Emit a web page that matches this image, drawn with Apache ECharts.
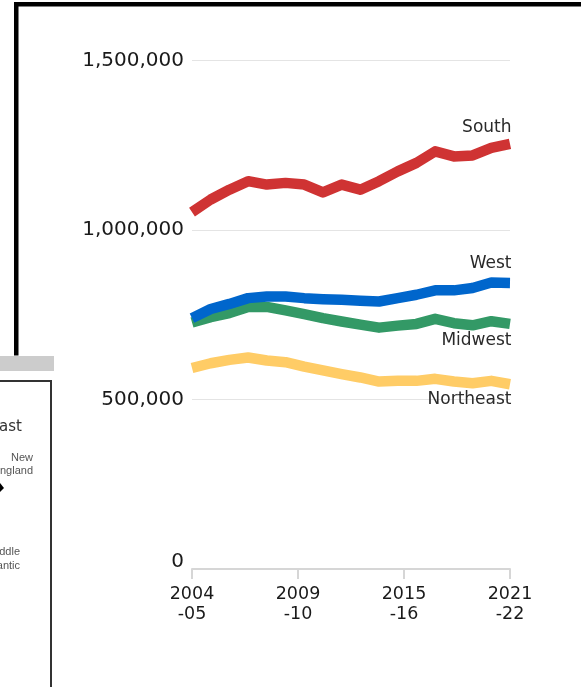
<!DOCTYPE html>
<html>
<head>
<meta charset="utf-8">
<script src="https://cdn.jsdelivr.net/npm/echarts@6/dist/echarts.min.js"></script>
<style>
  html, body { margin: 0; padding: 0; background: #fff; }
  #chart { width: 581px; height: 687px; }
</style>
</head>
<body>
<div id="chart"></div>
<script>
// School years plotted along the x axis
const schoolYears = ['2004-05', '2005-06', '2006-07', '2007-08', '2008-09', '2009-10',
  '2010-11', '2011-12', '2012-13', '2013-14', '2014-15', '2015-16', '2016-17',
  '2017-18', '2018-19', '2019-20', '2020-21', '2021-22'];

// Totals by region
const south = [1053000, 1090000, 1119000, 1144000, 1134000, 1139000, 1134000, 1111000, 1134000,
  1119000, 1144000, 1173000, 1198000, 1232000, 1217000, 1220000, 1242000, 1254000];
const west = [740000, 767000, 782000, 799000, 804000, 804000, 799000, 796000, 794000,
  791000, 789000, 799000, 809000, 822000, 822000, 829000, 845000, 844000];
const midwest = [727000, 743000, 755000, 773000, 773000, 763000, 752000, 740000, 730000,
  721000, 712000, 718000, 723000, 738000, 725000, 719000, 731000, 723000];
const northeast = [593000, 607000, 617000, 624000, 615000, 610000, 597000, 586000, 575000,
  565000, 553000, 555000, 555000, 561000, 553000, 548000, 555000, 545000];

// Bottom axis tick labels (evenly spaced)
const xTickLabels = ['2004\n-05', '2009\n-10', '2015\n-16', '2021\n-22'];

// y axis range
const yMin = 0, yMax = 1500000, yStep = 500000;

const FONT = 'DejaVu Sans';

function regionSeries(name, data, color, labelDy) {
  const last = data.length - 1;
  return {
    name: name,
    type: 'line',
    xAxisIndex: 0,
    data: data,
    showSymbol: false,
    symbol: 'none',
    smooth: false,
    silent: true,
    lineStyle: { color: color, width: 10.5, join: 'round', cap: 'butt' },
    markPoint: {
      silent: true,
      symbol: 'circle',
      symbolSize: 2,
      itemStyle: { color: 'rgba(0,0,0,0)' },
      data: [{ coord: [schoolYears[last], data[last]] }],
      label: {
        show: true,
        formatter: name,
        position: [2.5, labelDy + 1],
        align: 'right',
        verticalAlign: 'middle',
        fontFamily: FONT,
        fontSize: 17,
        color: '#2a2a2a'
      }
    }
  };
}

const chart = echarts.init(document.getElementById('chart'));
chart.setOption({
  backgroundColor: '#fff',
  animation: false,
  grid: { left: 192, right: 71, top: 60.5, bottom: 118, containLabel: false },
  xAxis: [
    {
      type: 'category',
      data: schoolYears,
      boundaryGap: false,
      position: 'top',
      show: false
    },
    {
      type: 'value',
      min: 0,
      max: xTickLabels.length - 1,
      interval: 1,
      position: 'bottom',
      axisLine: { show: true, lineStyle: { color: '#d6d6d6', width: 2 } },
      axisTick: { show: true, length: 10, lineStyle: { color: '#d6d6d6', width: 2 } },
      splitLine: { show: false },
      axisLabel: {
        margin: 15,
        fontFamily: FONT,
        fontSize: 17.5,
        lineHeight: 20,
        color: '#1a1a1a',
        formatter: v => xTickLabels[v] || ''
      }
    }
  ],
  yAxis: {
    type: 'value',
    min: yMin,
    max: yMax,
    interval: yStep,
    axisLine: { show: false },
    axisTick: { show: false },
    splitLine: { lineStyle: { color: '#e4e4e4', width: 1 } },
    axisLabel: {
      margin: 8,
      fontFamily: FONT,
      fontSize: 20,
      color: '#1a1a1a',
      formatter: v => v === 0 ? '{z|0}' : v.toLocaleString('en-US'),
      rich: { z: { fontFamily: FONT, fontSize: 20, color: '#1a1a1a', padding: [0, 0, 14, 0] } }
    }
  },
  series: [
    regionSeries('Northeast', northeast, '#ffcc66', 15),
    regionSeries('Midwest', midwest, '#339966', 17),
    regionSeries('West', west, '#0066cc', -19),
    regionSeries('South', south, '#cf3333', -16)
  ],
  graphic: [
    // frame of the chart panel
    { type: 'rect', shape: { x: 14, y: 2, width: 567, height: 4.5 }, style: { fill: '#000' }, silent: true },
    { type: 'rect', shape: { x: 14, y: 2, width: 4.5, height: 353.5 }, style: { fill: '#000' }, silent: true },
    // neighbouring map legend panel
    { type: 'rect', shape: { x: 0, y: 356, width: 54, height: 15 }, style: { fill: '#cccccc' }, silent: true },
    { type: 'rect', shape: { x: -10, y: 381, width: 61, height: 330 }, style: { fill: '#fff', stroke: '#333', lineWidth: 2 }, silent: true },
    { type: 'text', x: 22, y: 427, style: { text: 'Northeast', fontFamily: FONT, fontSize: 15, fill: '#333', align: 'right', verticalAlign: 'middle' }, silent: true },
    { type: 'text', x: 33, y: 451, style: { text: 'New\nEngland', fontFamily: 'Liberation Sans', fontSize: 11, lineHeight: 13, fill: '#555', align: 'right', verticalAlign: 'top' }, silent: true },
    { type: 'polygon', shape: { points: [[0, 483], [4, 488], [0, 492]] }, style: { fill: '#000' }, silent: true },
    { type: 'text', x: 20, y: 545, style: { text: 'Middle\nAtlantic', fontFamily: 'Liberation Sans', fontSize: 11, lineHeight: 14, fill: '#555', align: 'right', verticalAlign: 'top' }, silent: true }
  ]
});
</script>
</body>
</html>
